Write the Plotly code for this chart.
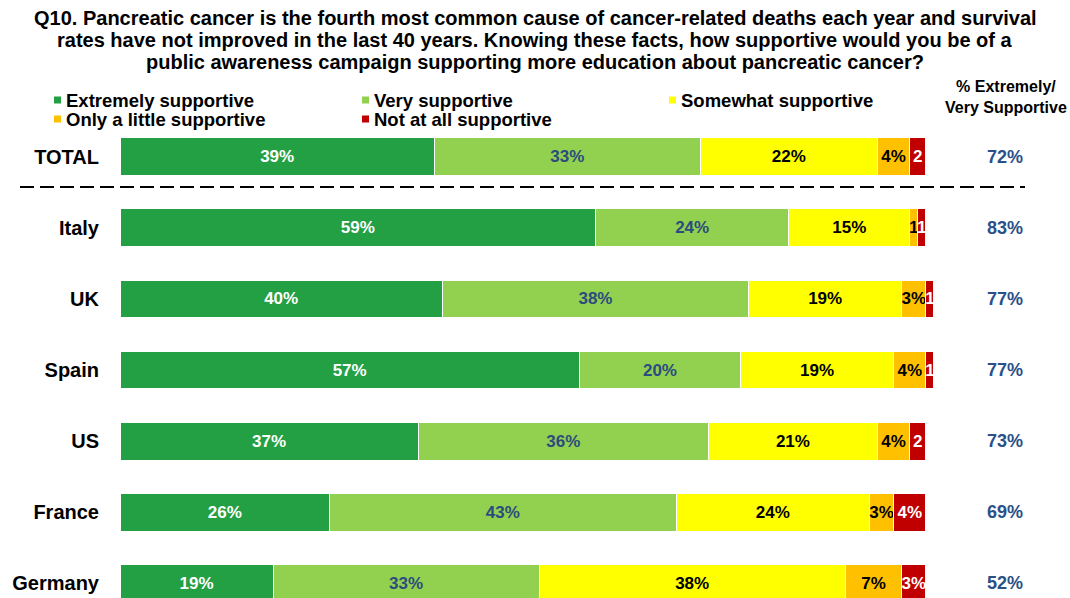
import plotly.graph_objects as go

# Survey responses (%), one list per answer category
countries = ["TOTAL", "Italy", "UK", "Spain", "US", "France", "Germany"]
extremely = [39, 59, 40, 57, 37, 26, 19]
very = [33, 24, 38, 20, 36, 43, 33]
somewhat = [22, 15, 19, 19, 21, 24, 38]
little = [4, 1, 3, 4, 4, 3, 7]
not_at_all = [2, 1, 1, 1, 2, 4, 3]
top_two = [72, 83, 77, 77, 73, 69, 52]

series_names = ["Extremely supportive", "Very supportive", "Somewhat supportive",
                "Only a little supportive", "Not at all supportive"]
series_values = [extremely, very, somewhat, little, not_at_all]
series_colors = ["#23A043", "#92D050", "#FFFF00", "#FFC000", "#C00000"]
label_colors = ["#FFFFFF", "#2B4C7E", "#000000", "#000000", "#FFFFFF"]

title_lines = [
    "Q10. Pancreatic cancer is the fourth most common cause of cancer-related deaths each year and survival",
    "rates have not improved in the last 40 years. Knowing these facts, how supportive would you be of a",
    "public awareness campaign supporting more education about pancreatic cancer?",
]

W, H = 1070, 598
ML, MR, MT, MB = 120, 128, 130, 0
PW, PH = W - ML - MR, H - MT - MB
FONT = "Arial, Liberation Sans, sans-serif"


def px_x(p):
    return (p - ML) / PW


def px_y(p):
    return (H - p) / PH


def seg_label(v):
    return f"{v}%" if v >= 3 else f"{v}"


rows = list(range(len(countries)))
fig = go.Figure()
for name, vals, col, tcol in zip(series_names, series_values, series_colors, label_colors):
    fig.add_trace(go.Bar(
        y=rows, x=vals, orientation="h", name=name,
        marker=dict(color=col, line=dict(color="#FFFFFF", width=1)),
        width=0.535,
        text=[seg_label(v) for v in vals],
        textposition="inside", insidetextanchor="middle", textangle=0,
        textfont=dict(family=FONT, size=17, color=tcol, weight="bold"),
        showlegend=False, hoverinfo="skip",
    ))

annotations = []
# Question text: three centred lines, tightly spaced
for k, line in enumerate(title_lines):
    annotations.append(dict(
        xref="paper", yref="paper", x=px_x(W / 2), y=px_y(18 + 22 * k),
        text=line, showarrow=False, xanchor="center", yanchor="middle",
        font=dict(family=FONT, size=20, color="#000000", weight="bold"),
    ))

# Top-two box values on the right
for i, v in enumerate(top_two):
    annotations.append(dict(
        xref="paper", yref="y", x=px_x(1005), y=i, text=f"{v}%",
        showarrow=False, xanchor="center", yanchor="middle",
        font=dict(family=FONT, size=18, color="#2B5088", weight="bold"),
    ))

annotations.append(dict(
    xref="paper", yref="paper", x=px_x(1006), y=px_y(97),
    text="% Extremely/<br>Very Supportive", showarrow=False,
    xanchor="center", yanchor="middle", align="center",
    font=dict(family="Liberation Sans Narrow, Arial Narrow, Arial, sans-serif",
              size=16, color="#000000", weight="bold"),
))

# Hand-built legend in three columns
legend_pos = [(54, 100), (362, 100), (669, 100), (54, 119), (362, 119)]
shapes = []
for (lx, ly), name, col in zip(legend_pos, series_names, series_colors):
    shapes.append(dict(type="rect", xref="paper", yref="paper",
                       x0=px_x(lx), x1=px_x(lx + 7), y0=px_y(ly + 3.5), y1=px_y(ly - 3.5),
                       fillcolor=col, line=dict(width=0)))
    annotations.append(dict(
        xref="paper", yref="paper", x=px_x(lx + 10), y=px_y(ly), text=name,
        showarrow=False, xanchor="left", yanchor="middle",
        font=dict(family=FONT, size=18.5, color="#000000", weight="bold"),
    ))

# Dashed separator between TOTAL and the countries
shapes.append(dict(type="line", xref="paper", yref="y",
                   x0=px_x(20), x1=px_x(1025), y0=0.423, y1=0.423,
                   line=dict(color="#000000", width=2, dash="14px,6px")))

fig.update_layout(
    width=W, height=H,
    margin=dict(l=ML, r=MR, t=MT, b=MB),
    barmode="stack",
    plot_bgcolor="#FFFFFF", paper_bgcolor="#FFFFFF",
    uniformtext=dict(minsize=17, mode="show"),
    xaxis=dict(range=[0, 102], visible=False, fixedrange=True),
    yaxis=dict(
        range=[6.211, -0.380], tickvals=rows, ticktext=countries,
        showgrid=False, zeroline=False, showline=False, ticks="",
        ticklabelstandoff=20,
        tickfont=dict(family=FONT, size=20, color="#000000", weight="bold"),
    ),
    annotations=annotations,
    shapes=shapes,
)

fig.write_html("out.html")
